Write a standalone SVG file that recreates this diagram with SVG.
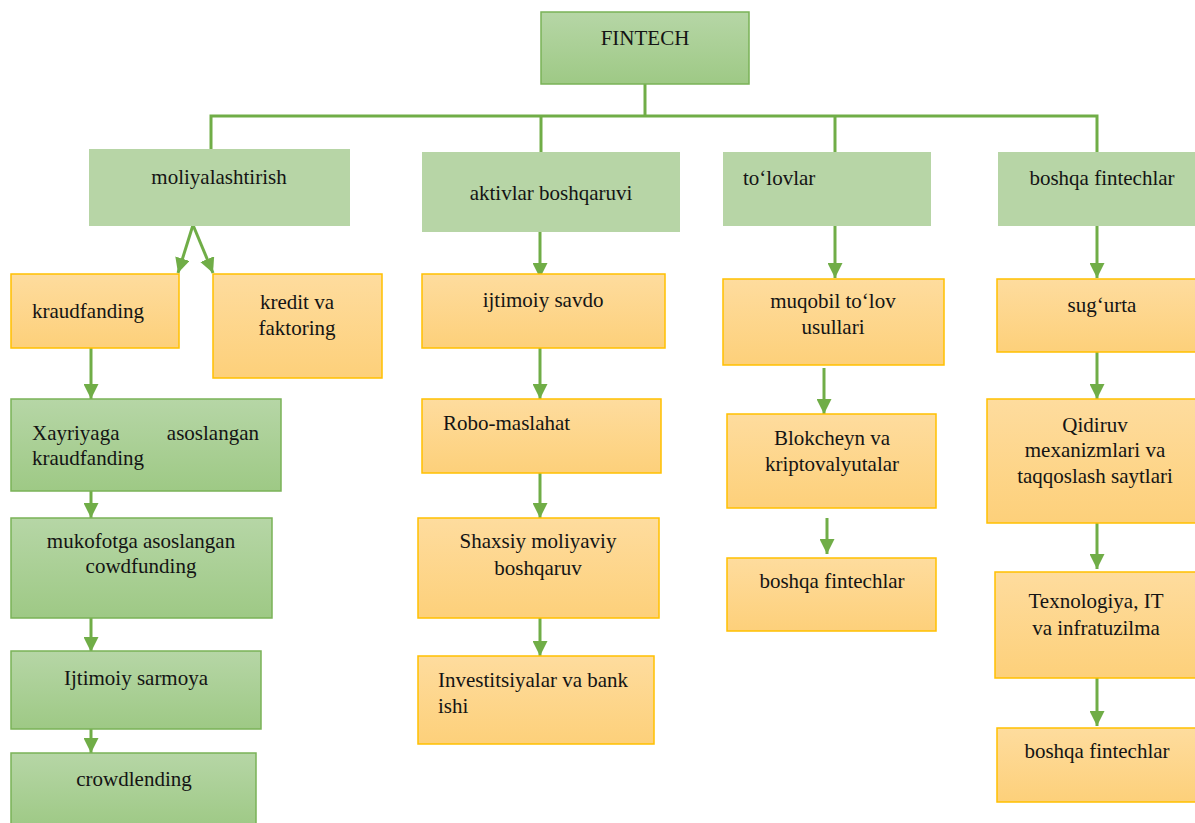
<svg xmlns="http://www.w3.org/2000/svg" width="1195" height="823" viewBox="0 0 1195 823" font-family="Liberation Serif, DejaVu Serif, serif">
<style>
text{font-family:'Liberation Serif','DejaVu Serif',serif;font-size:21px;fill:#141414}
.c{text-anchor:middle}
.l1{fill:#b7d5a6}
.gb{fill:url(#gg);stroke:#7ab257;stroke-width:1.5}
.ob{fill:url(#og);stroke:#ffc000;stroke-width:1.5}
.ln{stroke:#70ad47;stroke-width:3;fill:none}
.ar{stroke:#70ad47;stroke-width:3;fill:none;marker-end:url(#ah)}
</style>
<defs>
<linearGradient id="gg" x1="0" y1="0" x2="0" y2="1"><stop offset="0" stop-color="#b6d6a6"/><stop offset="1" stop-color="#9ec985"/></linearGradient>
<linearGradient id="og" x1="0" y1="0" x2="0" y2="1"><stop offset="0" stop-color="#fedc9e"/><stop offset="1" stop-color="#fdd07a"/></linearGradient>
<marker id="ah" viewBox="0 0 10 10" refX="10" refY="5" markerWidth="15" markerHeight="15" markerUnits="userSpaceOnUse" orient="auto"><path d="M0,0 L10,5 L0,10 z" fill="#70ad47"/></marker>
</defs>
<g id="connectors">
<path class="ln" d="M645,84 V116"/>
<path class="ln" d="M211,149 V116 H1097 V152" stroke-width="4"/>
<path class="ln" d="M541,116 V152"/>
<path class="ln" d="M835,116 V152"/>
<path class="ar" d="M193,225 L178,273"/>
<path class="ar" d="M193,225 L213,273"/>
<path class="ar" d="M91,348 V399"/>
<path class="ar" d="M91,473 V518"/>
<path class="ar" d="M91,610 V652"/>
<path class="ar" d="M91,713 V753"/>
<path class="ar" d="M540,224 V278"/>
<path class="ar" d="M540,348 V399"/>
<path class="ar" d="M540,473 V518"/>
<path class="ar" d="M540,610 V656"/>
<path class="ar" d="M835,226 V278"/>
<path class="ar" d="M824,368 V414"/>
<path class="ar" d="M827,518 V554"/>
<path class="ar" d="M1097,226 V278"/>
<path class="ar" d="M1097,352 V399"/>
<path class="ar" d="M1097,523 V569"/>
<path class="ar" d="M1097,678 V726"/>
</g>
<g id="n-fintech"><rect class="gb" x="541" y="12" width="208" height="72"/><text class="c" x="645" y="45">FINTECH</text></g>
<g id="n-moliya"><rect class="l1" x="89" y="149" width="261" height="77"/><text class="c" x="219" y="184">moliyalashtirish</text></g>
<g id="n-aktiv"><rect class="l1" x="422" y="152" width="258" height="80"/><text class="c" x="551" y="200">aktivlar boshqaruvi</text></g>
<g id="n-tolov"><rect class="l1" x="723" y="152" width="208" height="74"/><text x="743" y="185">to‘lovlar</text></g>
<g id="n-boshqa"><rect class="l1" x="998" y="152" width="200" height="74"/><text class="c" x="1102" y="185">boshqa fintechlar</text></g>
<g id="n-kraud"><rect class="ob" x="11" y="274" width="168" height="74"/><text x="32" y="318">kraudfanding</text></g>
<g id="n-kredit"><rect class="ob" x="213" y="274" width="169" height="104"/><text class="c" x="297" y="309">kredit va</text><text class="c" x="297" y="335">faktoring</text></g>
<g id="n-xayr"><rect class="gb" x="11" y="399" width="270" height="92"/><text x="32" y="440">Xayriyaga</text><text x="259" y="440" text-anchor="end">asoslangan</text><text x="32" y="465">kraudfanding</text></g>
<g id="n-mukof"><rect class="gb" x="11" y="518" width="261" height="100"/><text class="c" x="141" y="548">mukofotga asoslangan</text><text class="c" x="141" y="573">cowdfunding</text></g>
<g id="n-ijsar"><rect class="gb" x="11" y="651" width="250" height="78"/><text class="c" x="136" y="685">Ijtimoiy sarmoya</text></g>
<g id="n-crowd"><rect class="gb" x="11" y="753" width="245" height="75"/><text class="c" x="134" y="786">crowdlending</text></g>
<g id="n-ijsav"><rect class="ob" x="422" y="274" width="243" height="74"/><text class="c" x="543" y="307">ijtimoiy savdo</text></g>
<g id="n-robo"><rect class="ob" x="422" y="399" width="239" height="74"/><text x="443" y="430">Robo-maslahat</text></g>
<g id="n-shax"><rect class="ob" x="418" y="518" width="241" height="100"/><text class="c" x="538" y="548">Shaxsiy moliyaviy</text><text class="c" x="538" y="575">boshqaruv</text></g>
<g id="n-inv"><rect class="ob" x="418" y="656" width="236" height="88"/><text x="438" y="687">Investitsiyalar va bank</text><text x="438" y="713">ishi</text></g>
<g id="n-muq"><rect class="ob" x="723" y="279" width="221" height="86"/><text class="c" x="833" y="308">muqobil to‘lov</text><text class="c" x="833" y="334">usullari</text></g>
<g id="n-blok"><rect class="ob" x="727" y="414" width="209" height="94"/><text class="c" x="832" y="445">Blokcheyn va</text><text class="c" x="832" y="471">kriptovalyutalar</text></g>
<g id="n-bf3"><rect class="ob" x="727" y="558" width="209" height="73"/><text class="c" x="832" y="588">boshqa fintechlar</text></g>
<g id="n-sug"><rect class="ob" x="997" y="279" width="202" height="73"/><text class="c" x="1102" y="312">sug‘urta</text></g>
<g id="n-qid"><rect class="ob" x="987" y="399" width="212" height="124"/><text class="c" x="1095" y="432">Qidiruv</text><text class="c" x="1095" y="457">mexanizmlari va</text><text class="c" x="1095" y="483">taqqoslash saytlari</text></g>
<g id="n-tex"><rect class="ob" x="995" y="572" width="204" height="106"/><text class="c" x="1096" y="608">Texnologiya, IT</text><text class="c" x="1096" y="635">va infratuzilma</text></g>
<g id="n-bf4"><rect class="ob" x="997" y="728" width="202" height="74"/><text class="c" x="1097" y="758">boshqa fintechlar</text></g>
</svg>
